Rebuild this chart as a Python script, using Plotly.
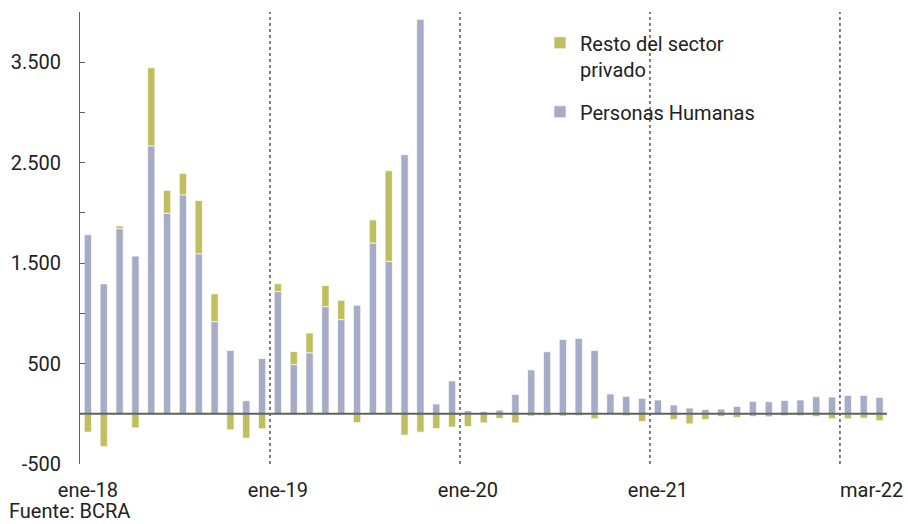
import plotly.graph_objects as go

meses = ["ene", "feb", "mar", "abr", "may", "jun", "jul", "ago", "sep", "oct", "nov", "dic"]
categorias = [f"{m}-{a}" for a in ["18", "19", "20", "21"] for m in meses] + ["ene-22", "feb-22", "mar-22"]

personas_humanas = [
    1783, 1293, 1843, 1570, 2667, 1997, 2180, 1593, 917, 630, 130, 550,
    1217, 490, 607, 1067, 937, 1080, 1700, 1517, 2580, 3927, 97, 327,
    30, 23, 37, 193, 437, 617, 740, 750, 630, 197, 173, 153,
    137, 87, 57, 43, 47, 73, 123, 120, 133, 137, 170, 167,
    183, 183, 163,
]
resto_sector_privado = [
    -183, -327, 27, -140, 777, 227, 213, 530, 277, -160, -243, -150,
    77, 130, 197, 210, 193, -87, 230, 903, -213, -183, -147, -133,
    -127, -90, -47, -90, -23, -20, -23, -20, -50, -3, -20, -77,
    -7, -57, -100, -57, -27, -37, -27, -30, -20, -20, -27, -50,
    -50, -43, -70,
]
etiquetas_x = ["ene-18", "ene-19", "ene-20", "ene-21", "mar-22"]
ticks_y = [-500, 0, 500, 1000, 1500, 2000, 2500, 3000, 3500, 4000]
etiquetas_y = ["-500", "", "500", "", "1.500", "", "2.500", "", "3.500", ""]

x = list(range(len(categorias)))
pos_etiquetas = [categorias.index(e) for e in etiquetas_x]
pos_etiquetas[-1] = pos_etiquetas[-1] - 0.5

COL_PH = "#a6abc6"
COL_RESTO = "#bfbf60"

fig = go.Figure()
fig.add_trace(go.Bar(
    x=x, y=personas_humanas, name="Personas Humanas",
    marker=dict(color=COL_PH, line=dict(color="rgba(255,255,255,0.7)", width=1)),
    width=0.46, legendgroup="ph", legendrank=2,
))
fig.add_trace(go.Bar(
    x=x, y=resto_sector_privado, name="Resto del sector<br>privado",
    marker=dict(color=COL_RESTO, line=dict(color="rgba(255,255,255,0.7)", width=1)),
    width=0.46, legendgroup="resto", legendrank=1,
))

# dotted year separators between diciembre and enero
for i, c in enumerate(categorias):
    if c.startswith("ene") and i > 0:
        fig.add_shape(type="line", x0=i - 0.5, x1=i - 0.5, y0=0, y1=1,
                      xref="x", yref="paper",
                      line=dict(color="black", width=1, dash="dot"))

# zero line drawn above the bars
fig.add_shape(type="line", x0=0, x1=1, y0=0, y1=0, xref="paper", yref="y",
              line=dict(color="#606060", width=2), layer="above")

fig.add_annotation(text="Fuente: BCRA", x=0, y=0, xref="paper", yref="paper",
                   xanchor="left", yanchor="bottom", showarrow=False,
                   font=dict(size=20, color="#222"), xshift=-73, yshift=-61)

fig.update_layout(
    width=908, height=524,
    margin=dict(l=80, r=21, t=12, b=60, autoexpand=False),
    barmode="relative",
    plot_bgcolor="white", paper_bgcolor="white",
    font=dict(family="Roboto", size=20, color="#222"),
    showlegend=True,
    legend=dict(x=0.57, y=0.975, xanchor="left", yanchor="top",
                traceorder="grouped", tracegroupgap=14, valign="top",
                font=dict(size=20, color="#222"), bgcolor="rgba(0,0,0,0)",
                itemwidth=30),
    xaxis=dict(range=[-0.5, 50.47], tickmode="array", tickvals=pos_etiquetas,
               ticktext=etiquetas_x, showgrid=False, zeroline=False,
               showline=False, ticks="", ticklabelstandoff=12, automargin=False),
    yaxis=dict(range=[-500, 4000], tickmode="array", tickvals=ticks_y,
               ticktext=etiquetas_y, showgrid=False, zeroline=False,
               showline=True, linecolor="#606060", linewidth=1,
               ticks="inside", ticklen=5, tickcolor="#606060",
               ticklabelstandoff=14, automargin=False),
)

fig.write_html("out.html", config={"displayModeBar": False},
               post_script="document.body.style.margin='0';")
